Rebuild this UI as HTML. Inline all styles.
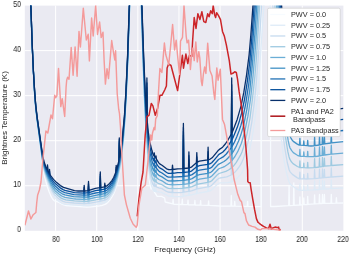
<!DOCTYPE html>
<html><head><meta charset="utf-8"><style>
html,body{margin:0;padding:0;background:#fff;}
body{width:350px;height:255px;overflow:hidden;position:relative;filter:blur(0.35px);font-family:"Liberation Sans",sans-serif;color:#262626;}
svg{position:absolute;left:0;top:0;}
.t{position:absolute;white-space:nowrap;line-height:1;will-change:transform;}
</style></head><body>
<svg width="350" height="255" viewBox="0 0 350 255">
<defs><clipPath id="ax"><rect x="24.8" y="5.6" width="318.59999999999997" height="225.20000000000002"/></clipPath></defs>
<rect x="24.8" y="5.6" width="318.59999999999997" height="225.20000000000002" fill="#eaeaf2"/>
<g stroke="#fff" stroke-width="1" fill="none">
<line x1="55.63" y1="5.6" x2="55.63" y2="230.8"/><line x1="96.74" y1="5.6" x2="96.74" y2="230.8"/><line x1="137.85" y1="5.6" x2="137.85" y2="230.8"/><line x1="178.96" y1="5.6" x2="178.96" y2="230.8"/><line x1="220.07" y1="5.6" x2="220.07" y2="230.8"/><line x1="261.18" y1="5.6" x2="261.18" y2="230.8"/><line x1="302.29" y1="5.6" x2="302.29" y2="230.8"/>
<line x1="24.8" y1="185.76" x2="343.4" y2="185.76"/><line x1="24.8" y1="140.72" x2="343.4" y2="140.72"/><line x1="24.8" y1="95.68" x2="343.4" y2="95.68"/><line x1="24.8" y1="50.64" x2="343.4" y2="50.64"/>
</g>
<g clip-path="url(#ax)" fill="none" stroke-width="1.3" stroke-linejoin="round">
<path d="M24.8,-30.4L29.5,-30.4L29.6,-30.0L32.0,43.9L34.5,94.3L36.7,118.3L42.1,162.9L43.0,169.0L44.4,176.0L47.1,186.2L49.1,191.7L51.2,196.7L52.6,199.0L54.4,200.9L58.5,202.2L63.1,204.7L65.8,205.5L86.8,207.1L91.3,206.9L99.6,205.9L102.3,205.3L105.0,204.4L106.4,203.6L107.8,202.4L109.6,200.4L111.9,197.0L113.7,193.8L115.0,190.6L117.8,181.5L120.5,168.1L122.3,154.6L124.3,133.6L126.0,106.5L127.6,71.1L131.1,-30.4L139.7,-30.4L140.0,-23.4L143.6,88.2L145.6,136.6L146.9,156.7L148.3,172.7L149.7,183.2L151.1,189.2L151.5,187.3L157.0,196.1L157.4,196.3L161.5,196.4L164.7,198.0L165.2,202.0L172.7,203.9L173.1,199.5L173.5,204.1L174.3,204.3L181.9,204.5L182.3,199.2L182.7,204.6L187.6,204.7L188.0,200.2L188.4,204.8L194.5,204.9L194.9,200.5L195.3,205.0L200.2,205.1L200.6,200.6L201.0,205.2L208.2,205.4L208.6,200.9L209.0,205.4L219.9,206.0L230.9,206.2L231.3,195.4L231.7,206.2L234.3,206.2L234.7,201.3L235.1,206.2L247.2,206.4L247.6,201.4L248.0,206.4L261.3,206.6L261.3,-30.4L270.5,-30.4L270.6,206.5L275.0,206.5L288.7,205.7L289.1,185.4L289.5,205.6L293.4,205.4L293.8,182.9L294.2,205.3L299.5,205.0L299.9,196.9L300.3,205.0L303.4,204.7L303.8,198.0L304.2,204.7L307.3,204.5L307.7,196.3L308.1,204.4L314.2,203.9L314.6,194.9L315.0,203.9L319.1,203.6L319.5,194.5L319.9,203.5L322.1,203.5L322.5,194.4L322.9,203.4L324.0,203.4L324.4,194.4L324.8,203.4L330.9,203.3L331.3,194.3L331.7,203.3L336.0,203.2L336.4,197.7L336.8,203.1L343.4,203.0" stroke="#f7fbff"/><path d="M24.8,-30.4L29.6,-30.4L32.0,43.5L34.5,93.7L36.7,117.6L42.1,160.3L43.9,170.2L46.2,178.5L47.1,181.2L47.5,176.8L47.9,183.2L49.1,186.4L49.5,182.7L49.9,188.2L52.1,193.1L54.4,197.0L56.7,199.4L59.9,202.0L62.6,203.6L65.4,204.4L83.8,205.6L84.2,200.0L84.6,205.6L88.1,205.6L88.5,196.5L88.9,205.5L99.9,203.6L100.3,187.8L100.7,203.5L104.1,202.7L104.4,202.5L104.8,198.8L105.2,202.3L106.4,201.6L107.8,200.5L109.6,198.5L113.2,192.9L114.6,190.0L115.8,186.6L116.2,179.5L116.6,184.2L118.9,174.6L119.3,151.7L119.7,171.0L121.0,163.2L122.3,152.6L123.7,139.4L124.6,127.0L126.2,100.5L127.8,64.2L131.1,-30.4L139.8,-30.4L143.8,89.1L146.3,142.7L146.5,146.8L146.9,112.3L147.4,158.0L148.8,171.6L149.7,177.9L152.0,187.1L152.9,189.6L153.8,191.1L153.9,191.2L154.3,187.7L154.7,191.4L155.6,191.5L156.0,188.9L156.4,191.7L161.5,192.4L167.9,195.8L172.1,196.4L172.5,191.9L172.9,196.5L179.3,196.6L183.0,196.3L183.4,151.2L183.8,196.2L188.5,195.4L188.9,179.1L189.3,195.3L196.4,193.6L196.8,183.6L197.2,193.4L207.7,191.5L208.1,178.8L208.5,191.3L210.3,190.7L211.7,189.9L217.1,184.5L219.0,183.2L220.3,182.9L227.6,182.7L231.3,182.0L231.7,126.5L232.1,181.7L234.5,180.4L237.2,178.1L240.6,174.5L242.2,172.1L243.8,168.6L245.7,163.4L249.8,149.2L252.4,136.0L255.1,118.0L257.0,100.4L259.1,75.4L264.0,3.3L265.5,-10.4L265.9,-13.1L266.4,-14.0L267.5,-13.3L268.0,-12.6L268.3,-11.8L270.0,3.0L277.1,97.4L281.0,137.2L283.1,153.6L284.7,164.0L287.1,175.3L289.0,181.8L290.0,183.8L291.7,185.5L297.4,189.4L299.5,190.3L299.9,183.6L300.3,190.4L303.4,190.4L303.8,185.9L304.2,190.4L307.3,190.2L307.7,184.8L308.1,190.2L314.2,189.9L314.6,180.8L315.0,189.8L319.1,189.5L319.5,180.5L319.9,189.4L322.1,189.2L322.5,180.2L322.9,189.2L324.0,189.1L324.4,181.0L324.8,189.0L330.9,188.6L331.3,179.6L331.7,188.6L343.4,187.9" stroke="#deebf7"/><path d="M24.8,-30.4L29.6,-30.4L32.0,43.1L34.5,93.2L35.3,103.4L36.7,116.9L42.1,159.2L43.9,168.9L46.2,177.0L47.1,179.5L47.5,175.1L47.9,181.5L49.1,184.5L49.5,180.8L49.9,186.2L52.1,190.9L54.4,194.6L57.2,197.4L60.4,199.9L63.1,201.4L65.4,202.1L74.0,203.0L83.8,203.5L84.2,197.9L84.6,203.5L88.1,203.4L88.5,194.4L88.9,203.3L99.9,201.4L100.3,185.5L100.7,201.2L104.1,200.4L104.4,200.3L104.8,196.6L105.2,200.0L106.4,199.4L107.8,198.3L109.6,196.4L113.2,190.8L114.6,187.9L115.8,184.5L116.2,177.5L116.6,182.1L118.9,172.6L119.3,149.7L119.7,169.0L121.0,161.2L122.3,150.6L123.7,137.4L124.6,125.0L126.2,98.4L127.8,62.1L131.0,-30.4L139.8,-30.4L140.0,-30.1L143.6,79.6L145.0,114.6L146.3,137.9L146.5,141.9L146.9,107.3L147.3,151.9L148.3,162.4L149.7,172.6L152.0,181.9L152.9,184.4L153.8,186.0L153.9,186.1L154.3,182.7L154.7,186.4L155.6,186.7L156.0,184.1L156.4,187.0L158.8,187.9L162.0,188.6L166.1,191.2L167.9,192.0L172.1,192.5L172.5,188.0L172.9,192.6L179.8,192.6L183.0,192.3L183.4,147.2L183.8,192.2L188.5,191.4L188.9,175.2L189.3,191.3L192.1,190.6L196.4,189.2L196.8,179.1L197.2,188.9L207.7,186.9L208.1,174.2L208.5,186.8L210.3,186.2L211.7,185.3L217.1,179.7L219.0,178.3L219.9,178.0L226.7,176.9L231.3,175.0L231.7,119.4L232.1,174.6L234.5,172.6L236.7,170.1L239.5,166.4L241.4,163.2L243.3,158.9L245.2,153.1L249.1,137.6L251.8,122.1L254.3,102.6L256.2,84.1L258.1,59.7L260.5,23.8L263.7,-30.4L270.4,-30.4L276.9,66.3L280.5,111.3L282.8,132.9L284.7,147.5L287.3,162.5L289.2,170.0L290.3,172.1L292.4,174.4L297.4,177.9L299.5,178.8L299.9,172.1L300.3,178.9L303.4,178.9L303.8,174.4L304.2,178.9L307.3,179.0L307.7,173.5L308.1,178.9L314.2,178.7L314.6,169.7L315.0,178.6L319.1,178.2L319.5,169.2L319.9,178.1L322.1,177.9L322.5,168.8L322.9,177.8L324.0,177.6L324.4,169.5L324.8,177.6L330.9,177.0L331.3,168.0L331.7,177.0L343.4,176.2" stroke="#c6dbef"/><path d="M24.8,-30.4L29.6,-30.4L32.0,42.7L34.5,92.6L35.7,107.7L37.1,120.1L42.6,161.0L43.9,167.6L45.8,174.1L47.1,177.9L47.5,173.4L47.9,179.7L49.1,182.6L49.5,178.9L49.9,184.2L51.2,187.0L53.1,190.3L54.9,192.8L58.1,195.8L61.3,198.1L63.5,199.2L65.8,199.8L74.5,200.9L83.8,201.4L84.2,195.8L84.6,201.4L88.1,201.3L88.5,192.2L88.9,201.2L99.9,199.1L100.3,183.3L100.7,199.0L104.4,198.1L104.8,194.3L105.2,197.8L106.8,196.9L108.2,195.7L110.0,193.6L113.7,187.8L115.8,182.5L116.2,175.5L116.6,180.1L118.9,170.6L119.3,147.7L119.7,167.0L121.0,159.2L122.3,148.6L123.7,135.3L124.6,122.9L126.2,96.3L127.8,60.0L130.9,-30.4L140.1,-30.4L143.6,75.3L145.0,110.0L146.3,133.0L146.5,137.1L146.9,102.4L147.4,148.0L148.8,161.2L149.7,167.3L152.0,176.7L152.9,179.3L153.9,181.0L154.3,177.7L154.7,181.4L155.6,181.8L156.0,179.3L156.4,182.3L158.8,183.7L162.0,184.7L166.6,187.6L168.4,188.4L172.1,188.7L172.5,184.2L172.9,188.7L183.0,188.3L183.4,143.2L183.8,188.2L188.5,187.5L188.9,171.2L189.3,187.4L192.1,186.6L196.4,184.7L196.8,174.7L197.2,184.4L199.4,183.8L207.7,182.4L208.1,169.7L208.5,182.2L210.3,181.6L211.7,180.8L217.1,175.0L219.0,173.5L225.8,171.4L228.5,170.0L231.3,168.1L231.7,112.4L232.1,167.5L234.0,165.4L236.3,162.4L240.4,155.4L242.0,151.9L243.6,147.2L247.1,133.3L250.0,118.0L252.4,99.4L254.9,76.0L256.5,56.4L261.8,-30.4L272.8,-30.4L277.3,45.8L281.2,97.7L283.3,119.7L285.2,135.3L287.9,151.9L289.0,156.7L289.8,159.1L291.4,161.8L293.0,163.6L297.4,166.5L299.5,167.5L299.9,160.8L300.3,167.5L303.4,167.6L303.8,163.1L304.2,167.6L307.3,167.8L307.7,162.4L308.1,167.8L314.2,167.6L314.6,158.6L315.0,167.6L319.1,167.0L319.5,158.0L319.9,166.9L322.1,166.6L322.5,157.5L322.9,166.5L324.0,166.3L324.4,158.1L324.8,166.2L330.9,165.6L331.3,156.5L331.7,165.5L343.4,164.6" stroke="#9ecae1"/><path d="M24.8,-30.4L29.6,-30.4L32.0,42.2L34.5,92.1L35.7,107.1L37.1,119.4L42.6,159.8L43.9,166.3L45.8,172.6L47.1,176.2L47.5,171.7L47.9,178.0L49.1,180.7L49.5,176.9L49.9,182.2L51.2,184.9L53.5,188.7L55.3,190.9L59.0,194.1L61.7,196.0L64.9,197.3L72.7,198.6L75.8,199.0L83.8,199.3L84.2,193.7L84.6,199.3L88.1,199.1L88.5,190.1L88.9,199.0L95.9,197.4L99.9,196.8L100.3,181.0L100.7,196.7L104.4,195.8L104.8,192.1L105.2,195.6L106.8,194.7L108.2,193.5L110.0,191.5L113.7,185.8L115.8,180.4L116.2,173.4L116.6,178.1L118.9,168.6L119.3,145.7L119.7,165.0L121.0,157.2L122.3,146.6L123.7,133.3L124.6,120.9L126.0,97.6L127.6,62.7L130.9,-30.4L140.3,-30.4L143.6,71.1L145.0,105.4L146.3,128.2L146.5,132.2L146.9,97.5L147.3,141.9L148.3,152.2L149.7,162.1L152.0,171.4L152.9,174.1L153.9,176.0L154.3,172.6L154.7,176.4L155.6,177.0L156.0,174.6L156.4,177.6L158.8,179.5L162.0,180.8L166.1,183.6L167.9,184.4L172.1,184.8L172.5,180.3L172.9,184.8L183.0,184.4L183.4,139.3L183.8,184.3L188.5,183.6L188.9,167.3L189.3,183.5L192.1,182.6L196.4,180.3L196.8,170.2L197.2,180.0L199.4,179.2L207.7,177.8L208.1,165.1L208.5,177.7L210.3,177.1L212.1,175.8L218.5,169.0L219.4,168.5L222.6,167.4L224.9,166.3L227.6,164.5L230.4,162.2L231.3,161.2L231.7,105.4L232.1,160.4L234.9,156.5L237.7,151.7L241.4,143.2L244.5,132.7L247.9,116.2L250.6,98.5L253.0,76.1L255.4,47.4L257.3,19.4L260.0,-29.5L260.2,-30.4L274.5,-30.4L278.8,43.4L282.3,91.2L284.1,110.3L285.7,124.0L288.2,140.8L289.2,145.2L290.0,147.8L291.7,150.7L293.3,152.6L297.4,155.3L299.5,156.2L299.9,149.5L300.3,156.3L303.4,156.4L303.8,151.9L304.2,156.4L307.3,156.7L307.7,151.3L308.1,156.7L314.2,156.7L314.6,147.6L315.0,156.6L319.1,156.0L319.5,146.9L319.9,155.8L322.1,155.4L322.5,146.3L322.9,155.3L324.0,155.1L324.4,146.9L324.8,155.0L330.9,154.2L331.3,145.2L331.7,154.1L343.4,153.1" stroke="#6baed6"/><path d="M24.8,-30.4L29.6,-30.4L32.2,45.3L33.4,72.3L34.7,93.6L35.7,106.5L37.1,118.7L42.6,158.7L43.9,165.0L45.8,171.1L47.1,174.6L47.5,170.0L47.9,176.2L49.1,178.8L49.5,175.0L49.9,180.3L51.2,182.8L53.1,185.7L55.3,188.5L59.0,191.7L62.2,193.8L64.9,194.9L73.6,196.7L83.8,197.2L84.2,191.6L84.6,197.2L88.1,197.0L88.5,187.9L88.9,196.9L95.4,195.3L99.9,194.5L100.3,178.7L100.7,194.4L104.4,193.6L104.8,189.9L105.2,193.4L107.3,192.1L109.6,189.9L111.9,186.8L113.7,183.7L115.8,178.4L116.2,171.4L116.6,176.1L118.9,166.6L119.3,143.7L119.7,163.0L121.0,155.2L122.3,144.6L124.5,120.6L126.0,95.6L127.6,60.7L130.7,-30.2L130.9,-30.4L140.3,-30.4L143.6,66.8L145.6,112.0L146.5,127.3L146.9,92.6L147.3,136.9L149.2,154.2L150.1,159.1L152.0,166.3L152.9,169.0L153.8,170.8L153.9,171.0L154.3,167.7L154.7,171.5L155.6,172.2L156.0,169.9L156.4,173.0L158.8,175.3L162.0,176.9L166.6,180.0L168.4,180.8L172.1,181.0L172.5,176.5L172.9,181.0L183.0,180.4L183.4,135.3L183.8,180.3L188.5,179.7L188.9,163.4L189.3,179.6L192.1,178.6L196.4,175.9L196.8,165.8L197.2,175.5L199.4,174.7L207.7,173.3L208.1,160.6L208.5,173.2L208.9,173.0L210.8,172.3L212.1,171.3L218.5,164.3L224.0,161.5L226.3,159.7L228.5,157.5L231.3,154.4L231.7,98.5L232.1,153.4L234.0,150.4L236.3,146.1L238.6,141.0L240.8,135.1L243.6,125.5L246.8,109.7L249.8,90.1L252.2,66.4L254.9,33.8L256.5,9.1L258.6,-30.4L275.9,-30.4L280.0,41.1L283.7,89.2L285.5,107.0L287.9,125.9L289.2,133.4L289.8,135.3L290.8,137.8L292.2,140.2L293.3,141.4L296.9,143.9L298.7,144.8L299.5,145.0L299.9,138.3L300.3,145.1L303.4,145.3L303.8,140.8L304.2,145.4L307.3,145.7L307.7,140.4L308.1,145.8L311.0,146.0L313.8,145.9L314.2,145.8L314.6,136.8L315.0,145.7L319.1,145.0L319.5,135.9L319.9,144.8L322.1,144.3L322.5,135.3L322.9,144.2L324.0,144.0L324.4,135.8L324.8,143.8L330.9,143.0L331.3,133.9L331.7,142.9L343.4,141.7" stroke="#4292c6"/><path d="M24.8,-30.4L29.6,-30.4L32.2,44.8L33.4,71.8L34.7,93.0L35.7,105.9L37.1,118.0L42.6,157.5L43.9,163.8L45.8,169.6L47.1,172.9L47.5,168.3L47.9,174.5L49.1,176.9L49.5,173.1L49.9,178.3L51.2,180.7L53.1,183.5L55.3,186.1L59.4,189.7L62.6,191.7L64.9,192.6L74.0,194.7L83.8,195.2L84.2,189.5L84.6,195.1L88.1,194.9L88.5,185.8L88.9,194.7L95.4,193.0L99.9,192.3L100.3,176.4L100.7,192.2L104.4,191.4L104.8,187.7L105.2,191.1L107.3,190.0L109.6,187.8L111.9,184.7L113.7,181.6L115.8,176.4L116.2,169.4L116.6,174.1L118.9,164.6L119.3,141.7L119.7,161.0L121.0,153.2L122.3,142.6L124.5,118.6L126.0,93.6L127.6,58.6L130.7,-30.4L140.5,-30.4L143.6,62.6L145.6,107.3L146.5,122.5L146.9,87.7L147.4,133.1L148.8,145.8L149.7,151.7L152.4,162.6L153.9,166.0L154.3,162.7L154.7,166.5L155.6,167.5L156.0,165.2L156.4,168.3L159.3,171.6L162.0,173.0L166.6,176.3L168.4,177.1L172.1,177.2L172.5,172.7L172.9,177.2L183.0,176.5L183.4,131.4L183.8,176.4L188.5,175.8L188.9,159.5L189.3,175.7L192.1,174.6L196.4,171.5L196.8,161.4L197.2,171.0L199.4,170.1L207.7,168.8L208.1,156.1L208.5,168.6L210.3,168.1L211.7,167.2L218.5,159.5L223.1,156.9L226.3,154.0L231.3,147.6L231.7,91.6L232.1,146.4L234.5,142.0L236.7,137.0L239.0,131.0L240.9,125.4L242.5,119.5L245.7,103.9L248.7,84.5L250.6,68.2L252.7,43.4L255.4,5.0L257.3,-29.4L257.5,-30.4L277.1,-30.4L281.0,35.0L284.6,83.3L286.8,104.3L288.4,116.9L289.8,123.6L291.7,128.1L292.7,129.8L293.7,130.8L297.4,133.1L299.5,134.0L299.9,127.3L300.3,134.0L303.4,134.3L303.8,129.8L304.2,134.4L307.3,134.9L307.7,129.5L308.1,135.0L311.5,135.2L314.2,135.1L314.6,126.0L315.0,135.0L319.1,134.1L319.5,125.0L319.9,134.0L322.1,133.4L322.5,124.3L322.9,133.2L324.0,132.9L324.4,124.8L324.8,132.8L330.9,131.8L331.3,122.8L331.7,131.7L343.4,130.5" stroke="#2171b5"/><path d="M24.8,-30.4L29.6,-30.4L32.2,44.4L33.4,71.3L34.7,92.4L35.7,105.2L37.1,117.3L42.6,156.4L43.9,162.5L45.8,168.1L47.1,171.3L47.5,166.6L47.9,172.7L49.1,175.0L49.5,171.2L49.9,176.3L50.8,177.9L53.1,181.2L55.8,184.1L59.9,187.6L63.1,189.6L64.9,190.3L74.5,192.7L83.8,193.1L84.2,187.4L84.6,193.1L88.1,192.7L88.5,183.7L88.9,192.6L95.4,190.7L99.9,190.0L100.3,174.2L100.7,189.9L104.4,189.1L104.8,185.4L105.2,188.9L107.3,187.8L109.6,185.7L111.9,182.6L113.7,179.6L115.8,174.4L116.2,167.4L116.6,172.0L118.9,162.7L119.3,139.7L119.7,159.0L121.0,151.2L122.3,140.6L124.5,116.6L126.0,91.5L127.6,56.5L130.7,-30.4L140.6,-30.4L143.6,58.4L145.6,103.7L146.5,117.7L146.9,82.9L147.3,126.7L147.5,129.2L148.8,140.7L149.7,146.5L152.4,157.5L153.9,161.0L154.3,157.7L154.7,161.6L155.6,162.7L156.0,160.5L156.4,163.7L158.3,166.5L159.7,167.9L162.0,169.1L166.6,172.5L168.4,173.3L172.1,173.4L172.5,168.9L172.9,173.3L177.5,172.7L183.0,172.5L183.4,127.5L183.8,172.5L188.5,171.9L188.9,155.6L189.3,171.8L190.7,171.3L192.1,170.6L196.4,167.1L196.8,157.0L197.2,166.6L199.4,165.6L207.7,164.3L208.1,151.6L208.5,164.2L208.9,164.1L210.3,163.6L211.7,162.7L213.5,160.8L218.1,155.3L219.4,154.1L222.6,152.2L225.3,149.5L228.1,145.8L231.3,140.8L231.7,84.7L232.1,139.5L233.1,137.5L237.2,127.6L239.5,120.7L241.4,113.9L244.5,99.6L247.3,81.6L249.5,64.1L251.6,40.6L254.1,6.1L256.2,-30.4L278.2,-30.4L278.5,-29.5L281.7,27.8L285.2,74.8L287.6,98.2L289.0,108.1L290.0,112.8L292.4,118.2L293.8,120.0L297.4,122.2L299.5,123.0L299.9,116.3L300.3,123.1L303.4,123.4L303.8,118.9L304.2,123.5L307.3,124.1L307.7,118.8L308.1,124.2L311.5,124.6L314.2,124.4L314.6,115.4L315.0,124.3L319.1,123.4L319.5,114.3L319.9,123.2L322.1,122.5L322.5,113.4L322.9,122.3L324.0,122.0L324.4,113.8L324.8,121.9L330.9,120.8L331.3,111.8L331.7,120.7L343.4,119.3" stroke="#08519c"/><path d="M24.8,-30.4L29.6,-30.4L32.2,44.0L33.4,70.8L34.7,91.9L35.7,104.6L37.1,116.6L42.6,155.2L43.9,161.2L45.8,166.7L47.1,169.6L47.5,164.9L47.9,171.0L49.1,173.1L49.5,169.3L49.9,174.4L50.8,175.9L53.5,179.4L56.7,182.6L60.4,185.6L63.5,187.4L74.5,190.7L78.1,191.0L83.8,191.0L84.2,185.4L84.6,191.0L88.1,190.6L88.5,181.5L88.9,190.4L95.4,188.4L99.9,187.7L100.3,171.9L100.7,187.6L104.4,186.9L104.8,183.2L105.2,186.7L107.3,185.6L109.6,183.5L111.9,180.6L113.7,177.5L115.8,172.3L116.2,165.4L116.6,170.0L118.9,160.7L119.3,137.8L119.7,157.1L121.0,149.3L122.3,138.6L124.5,114.6L126.0,89.5L127.6,54.5L130.5,-30.4L140.7,-30.4L143.4,48.7L145.2,91.4L146.5,112.9L146.9,78.0L147.3,121.8L148.3,132.0L149.7,141.4L152.0,150.8L152.9,153.8L153.8,155.8L153.9,156.0L154.3,152.8L154.7,156.7L155.6,158.0L156.0,155.8L156.4,159.1L158.8,162.9L159.7,163.9L162.0,165.2L166.6,168.8L168.8,169.7L172.1,169.6L172.5,165.1L172.9,169.5L177.5,168.8L183.0,168.6L183.4,123.5L183.8,168.5L188.5,168.0L188.9,151.8L189.3,167.9L190.7,167.4L192.1,166.6L196.4,162.8L196.8,152.6L197.2,162.2L199.4,161.1L207.7,159.9L208.1,147.2L208.5,159.7L209.9,159.3L212.1,157.8L218.1,150.6L219.4,149.4L222.6,147.2L225.3,144.0L228.1,139.8L231.3,134.1L231.7,77.9L232.1,132.6L233.1,130.3L237.2,119.4L241.2,105.4L243.8,92.4L246.5,75.3L249.1,54.8L250.8,35.4L252.7,9.4L255.1,-30.4L279.3,-30.4L279.6,-29.4L283.3,35.0L284.9,57.0L286.8,77.5L288.2,91.0L289.5,99.3L291.0,104.2L292.7,108.0L294.1,109.4L297.4,111.4L299.5,112.2L299.9,105.5L300.3,112.3L303.4,112.6L303.8,108.2L304.2,112.7L307.3,113.4L307.7,108.1L308.1,113.6L311.5,114.0L314.2,113.9L314.6,104.8L315.0,113.8L315.1,113.7L319.1,112.7L319.5,103.6L319.9,112.5L322.1,111.8L322.5,102.7L322.9,111.6L324.0,111.3L324.4,103.0L324.8,111.1L330.9,109.9L331.3,100.8L331.7,109.8L343.4,108.3" stroke="#08306b"/>
<path d="M137.2,216.4 L139.0,198.4 L141.2,182.2 L143.0,172.0 L145.2,135.0 L147.0,116.5 L149.0,115.3 L151.3,103.5 L152.9,105.9 L155.3,115.3 L157.6,108.2 L160.0,95.3 L161.9,95.3 L164.7,90.0 L166.4,86.0 L167.1,68.0 L168.6,64.0 L171.0,65.5 L174.3,78.0 L177.6,90.6 L180.0,72.9 L182.4,55.3 L183.5,68.2 L185.9,54.1 L187.8,63.5 L189.4,55.3 L191.8,56.5 L192.6,41.2 L194.2,17.6 L196.0,28.4 L197.9,13.7 L199.9,19.6 L201.9,11.8 L203.8,21.6 L205.8,22.5 L207.7,13.7 L209.1,16.7 L210.7,10.8 L212.3,13.7 L213.2,5.5 L214.6,14.7 L215.6,17.6 L216.6,12.7 L218.5,15.7 L220.5,19.6 L222.5,31.4 L224.4,36.3 L226.4,45.1 L229.3,60.7 L231.0,74.1 L232.8,73.3 L234.7,71.8 L236.3,72.5 L237.5,78.8 L239.1,91.4 L241.9,109.1 L243.7,126.8 L245.4,141.0 L246.8,158.6 L247.6,170.0 L247.8,181.5 L248.7,182.6 L250.2,182.8 L251.0,188.6 L252.7,198.9 L254.5,209.2 L255.4,213.6 L256.4,218.6 L257.9,222.1 L259.3,223.3 L261.4,225.0 L263.6,226.4 L266.4,227.9 L268.6,228.6 L270.0,224.3 L271.4,229.3 L272.9,227.9 L275.0,227.1 L277.1,227.6 L278.6,227.1 L279.3,230.0 L280.7,229.3" stroke="#cc2529" stroke-width="1.5"/>
<path d="M24.9,225.2 L28.5,211.0 L30.9,219.0 L33.2,214.7 L35.9,212.5 L36.7,203.0 L37.6,195.3 L39.4,190.0 L41.0,182.0 L42.8,160.0 L45.9,131.0 L47.8,133.0 L51.0,115.0 L52.5,118.8 L54.7,95.3 L55.7,97.7 L56.9,95.8 L58.5,68.4 L59.8,90.0 L60.8,106.6 L62.2,98.7 L64.7,116.4 L66.1,87.0 L66.7,80.2 L67.6,77.3 L69.0,79.2 L71.2,47.5 L73.1,75.3 L75.1,46.9 L77.1,76.3 L79.0,31.4 L80.4,47.0 L83.3,8.2 L86.3,40.0 L88.2,34.3 L89.4,60.9 L91.6,18.0 L93.2,36.0 L95.7,5.2 L97.5,34.5 L99.6,22.0 L101.2,37.6 L103.0,32.2 L104.1,60.0 L105.4,84.1 L107.0,68.7 L108.5,78.6 L111.7,40.5 L113.2,50.7 L114.8,60.0 L115.6,50.7 L117.2,93.5 L118.7,109.2 L119.5,113.7 L120.5,127.5 L121.5,148.0 L124.4,195.0 L126.4,204.6 L130.3,218.3 L133.2,224.2 L136.2,227.2 L137.2,225.2 L139.0,205.0 L141.9,188.0 L143.5,186.8 L145.3,185.0 L147.6,165.0 L150.7,135.0 L151.8,140.0 L152.5,133.0 L154.1,127.5 L154.9,129.8 L155.7,118.8 L157.3,115.7 L158.5,91.8 L159.9,68.5 L161.9,72.5 L164.4,43.0 L165.8,54.8 L168.7,64.6 L170.7,45.0 L172.6,24.5 L174.6,50.0 L176.2,40.2 L177.5,54.8 L179.5,74.4 L180.5,41.2 L182.5,37.3 L184.0,5.5 L186.2,36.3 L187.1,42.8 L188.6,40.2 L189.6,55.5 L190.4,69.5 L191.7,54.2 L192.9,47.9 L194.2,60.6 L195.8,42.0 L197.3,61.9 L198.8,51.7 L199.8,58.0 L201.3,81.0 L202.2,85.5 L203.4,74.0 L204.6,67.0 L205.9,73.4 L207.7,43.2 L209.9,70.6 L212.1,76.1 L213.8,93.0 L214.8,99.4 L216.8,67.9 L218.1,80.2 L220.3,69.2 L222.5,119.4 L224.5,124.3 L226.5,135.1 L228.5,146.0 L230.5,158.8 L232.8,170.0 L234.0,179.0 L235.4,184.6 L237.8,194.3 L240.2,200.4 L241.5,201.6 L243.9,212.6 L245.0,213.6 L246.4,220.7 L248.6,225.0 L252.1,226.4 L255.0,227.1 L257.9,229.3 L260.7,230.0 L262.1,228.6 L266.4,228.6 L273.6,229.3 L280.9,230.4" stroke="#f49a9a" stroke-width="1.45"/>
</g>
<rect x="267.6" y="8.2" width="72.6" height="128.4" fill="#fff" stroke="#cccccc" stroke-opacity="0.8" stroke-width="0.8" rx="1.5"/>
<g fill="none" stroke-width="1.3">
<line x1="270.3" x2="285.3" y1="14.50" y2="14.50" stroke="#f7fbff"/><line x1="270.3" x2="285.3" y1="25.24" y2="25.24" stroke="#deebf7"/><line x1="270.3" x2="285.3" y1="35.98" y2="35.98" stroke="#c6dbef"/><line x1="270.3" x2="285.3" y1="46.72" y2="46.72" stroke="#9ecae1"/><line x1="270.3" x2="285.3" y1="57.46" y2="57.46" stroke="#6baed6"/><line x1="270.3" x2="285.3" y1="68.20" y2="68.20" stroke="#4292c6"/><line x1="270.3" x2="285.3" y1="78.94" y2="78.94" stroke="#2171b5"/><line x1="270.3" x2="285.3" y1="89.68" y2="89.68" stroke="#08519c"/><line x1="270.3" x2="285.3" y1="100.42" y2="100.42" stroke="#08306b"/>
<line x1="270.3" x2="285.3" y1="116.2" y2="116.2" stroke="#b22227" stroke-width="1.6"/>
<line x1="270.3" x2="285.3" y1="130.5" y2="130.5" stroke="#f49a9a" stroke-width="1.3"/>
</g>
</svg>
<div class="t" style="left:35.63px;width:40px;text-align:center;top:236.2px;font-size:8.2px;transform:scaleX(0.86);">80</div>
<div class="t" style="left:76.74px;width:40px;text-align:center;top:236.2px;font-size:8.2px;transform:scaleX(0.86);">100</div>
<div class="t" style="left:117.85px;width:40px;text-align:center;top:236.2px;font-size:8.2px;transform:scaleX(0.86);">120</div>
<div class="t" style="left:158.96px;width:40px;text-align:center;top:236.2px;font-size:8.2px;transform:scaleX(0.86);">140</div>
<div class="t" style="left:200.07px;width:40px;text-align:center;top:236.2px;font-size:8.2px;transform:scaleX(0.86);">160</div>
<div class="t" style="left:241.18px;width:40px;text-align:center;top:236.2px;font-size:8.2px;transform:scaleX(0.86);">180</div>
<div class="t" style="left:282.29px;width:40px;text-align:center;top:236.2px;font-size:8.2px;transform:scaleX(0.86);">200</div>
<div class="t" style="left:323.40px;width:40px;text-align:center;top:236.2px;font-size:8.2px;transform:scaleX(0.86);">220</div>
<div class="t" style="left:0px;width:21.0px;text-align:right;top:226.40px;font-size:8.2px;transform:scaleX(0.86);transform-origin:100% 50%;">0</div>
<div class="t" style="left:0px;width:21.0px;text-align:right;top:181.36px;font-size:8.2px;transform:scaleX(0.86);transform-origin:100% 50%;">10</div>
<div class="t" style="left:0px;width:21.0px;text-align:right;top:136.32px;font-size:8.2px;transform:scaleX(0.86);transform-origin:100% 50%;">20</div>
<div class="t" style="left:0px;width:21.0px;text-align:right;top:91.28px;font-size:8.2px;transform:scaleX(0.86);transform-origin:100% 50%;">30</div>
<div class="t" style="left:0px;width:21.0px;text-align:right;top:46.24px;font-size:8.2px;transform:scaleX(0.86);transform-origin:100% 50%;">40</div>
<div class="t" style="left:0px;width:21.0px;text-align:right;top:1.20px;font-size:8.2px;transform:scaleX(0.86);transform-origin:100% 50%;">50</div>
<div class="t" style="left:135px;width:100px;text-align:center;top:245.8px;font-size:8px;">Frequency (GHz)</div>
<div class="t" style="left:-45px;width:100px;text-align:center;top:113.6px;font-size:8px;transform:rotate(-90deg);">Brightnes Temperature (K)</div>
<div class="t" style="left:290.6px;top:10.84px;font-size:7.3px;">PWV = 0.0</div>
<div class="t" style="left:290.6px;top:21.58px;font-size:7.3px;">PWV = 0.25</div>
<div class="t" style="left:290.6px;top:32.32px;font-size:7.3px;">PWV = 0.5</div>
<div class="t" style="left:290.6px;top:43.06px;font-size:7.3px;">PWV = 0.75</div>
<div class="t" style="left:290.6px;top:53.80px;font-size:7.3px;">PWV = 1.0</div>
<div class="t" style="left:290.6px;top:64.54px;font-size:7.3px;">PWV = 1.25</div>
<div class="t" style="left:290.6px;top:75.28px;font-size:7.3px;">PWV = 1.5</div>
<div class="t" style="left:290.6px;top:86.02px;font-size:7.3px;">PWV = 1.75</div>
<div class="t" style="left:290.6px;top:96.76px;font-size:7.3px;">PWV = 2.0</div>
<div class="t" style="left:290.6px;top:107.5px;font-size:7.3px;line-height:8.0px;">PA1 and PA2<br>&nbsp;Bandpass</div>
<div class="t" style="left:290.6px;top:126.8px;font-size:7.3px;">PA3 Bandpass</div>
</body></html>
